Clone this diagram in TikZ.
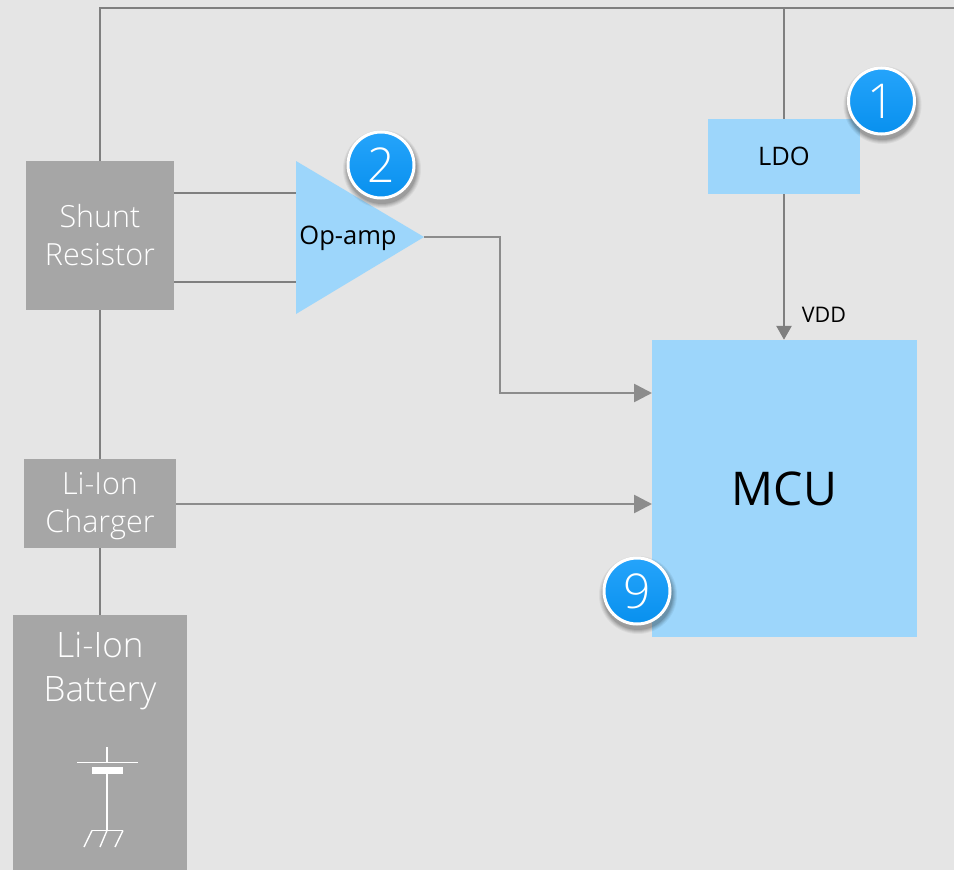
\documentclass[tikz,border=0pt]{standalone}
\usepackage{fontspec}
\setmainfont{Open Sans}
\newfontfamily\lightf{Open Sans Light}
\usetikzlibrary{arrows.meta,calc}
\definecolor{bgc}{HTML}{E5E5E5}
\definecolor{boxgray}{HTML}{A6A6A6}
\definecolor{boxblue}{HTML}{9DD6FB}
\definecolor{linec}{HTML}{7F7F7F}
\definecolor{arrc}{HTML}{8C8C8C}
\definecolor{badgetop}{HTML}{25A4FB}
\definecolor{badgebot}{HTML}{0890EE}
\tikzset{
  x=1pt,y=-1pt,
  graybox/.style={fill=boxgray,text=white,align=center,inner sep=0pt,font=\lightf\fontsize{30.5}{38}\selectfont},
  bluebox/.style={fill=boxblue,text=black,align=center,inner sep=0pt},
  wire/.style={draw=linec,line width=2.7pt},
  arrowwire/.style={draw=arrc,line width=2.7pt,-{Triangle[length=18pt,width=18pt,fill=arrc]}},
  symline/.style={draw=white,line width=1.4pt},
}
\newcommand{\badge}[3]{%
  \foreach \r/\o in {39/0.05,38/0.06,37/0.07,36/0.08,35/0.1}{
    \fill[black,opacity=\o] ($(#1)+(1,4)$) circle[radius=\r];
  }
  \node[circle,minimum size=66pt,inner sep=0pt,draw=white,line width=3pt,
    top color=badgetop,bottom color=badgebot,text=white,font=\lightf\fontsize{48}{56}\selectfont] (#3) at (#1) {#2};
}
\begin{document}
\begin{tikzpicture}
\useasboundingbox (0,0) rectangle (954,870);
\fill[bgc] (0,0) rectangle (954,870);

\node[graybox,minimum width=148pt,minimum height=149pt] (shunt) at (100,235.5) {Shunt\\Resistor};
\node[graybox,minimum width=152pt,minimum height=89pt] (charger) at (100,503.5) {};
\node[text=white,align=center,inner sep=0pt,font=\lightf\fontsize{30.5}{38}\selectfont] (chtxt) at (100,506) {Li-Ion\\Charger};
\node[graybox,minimum width=174pt,minimum height=255pt] (battery) at (100,742.5) {};
\node[fill=none,text=white,align=center,inner sep=0pt,font=\lightf\fontsize{35}{44}\selectfont] (battxt) at (100,671.5) {Li-Ion\\Battery};
\node[bluebox,minimum width=152pt,minimum height=75pt,font=\fontsize{25.5}{30}\selectfont] (ldo) at (784,156.5) {LDO};
\node[bluebox,minimum width=265pt,minimum height=297pt,font=\fontsize{46.5}{54}\selectfont] (mcu) at (784.5,488.5) {MCU};

\coordinate (opa) at (296,161);
\coordinate (opb) at (296,314);
\coordinate (opout) at (424,237);
\fill[boxblue] (opa) -- (opout) -- (opb) -- cycle;
\node[text=black,inner sep=0pt,font=\fontsize{25.5}{30}\selectfont] (oplabel) at (348,238) {Op-amp};

\coordinate (topleft) at (100,8);
\coordinate (topjoin) at (784,8);
\coordinate (topright) at (954,8);
\coordinate (shuntin1) at (174,193);
\coordinate (opin1) at (296,193);
\coordinate (shuntin2) at (174,282);
\coordinate (opin2) at (296,282);
\coordinate (bend1) at (500,237);
\coordinate (bend2) at (500,393);
\coordinate (mcuin1) at (652,393);
\coordinate (chout) at (176,504);
\coordinate (mcuin2) at (652,504);

\draw[wire] (shunt.north) -- (topleft) -- (topright);
\draw[wire] (topjoin) -- (ldo.north);
\draw[wire] (shunt.south) -- (charger.north);
\draw[wire] (charger.south) -- (battery.north);
\draw[wire] (shuntin1) -- (opin1);
\draw[wire] (shuntin2) -- (opin2);
\draw[arrowwire] (opout) -- (bend1) -- (bend2) -- (mcuin1);
\draw[arrowwire] (chout) -- (mcuin2);
\draw[draw=linec,line width=2.7pt,-{Triangle[length=14pt,width=15pt,fill=linec]}] (ldo.south) -- (ldo.south |- mcu.north);
\node[text=black,inner sep=0pt,font=\fontsize{21.5}{26}\selectfont] (vdd) at (824,315) {VDD};

% battery symbol
\draw[symline] (107,747) -- (107,762);
\draw[symline] (77,762.5) -- (138,762.5);
\fill[white] (92,766.5) rectangle (123,774);
\draw[symline] (107,774) -- (107,830);
\draw[symline] (92,830.5) -- (123,830.5);
\draw[symline] (92,830.5) -- (84,847);
\draw[symline] (107,830.5) -- (100,847);
\draw[symline] (123,830.5) -- (115,847);

\badge{881.5,101}{1}{b1}
\badge{381,165}{2}{b2}
\badge{637,591}{9}{b9}
\end{tikzpicture}
\end{document}
